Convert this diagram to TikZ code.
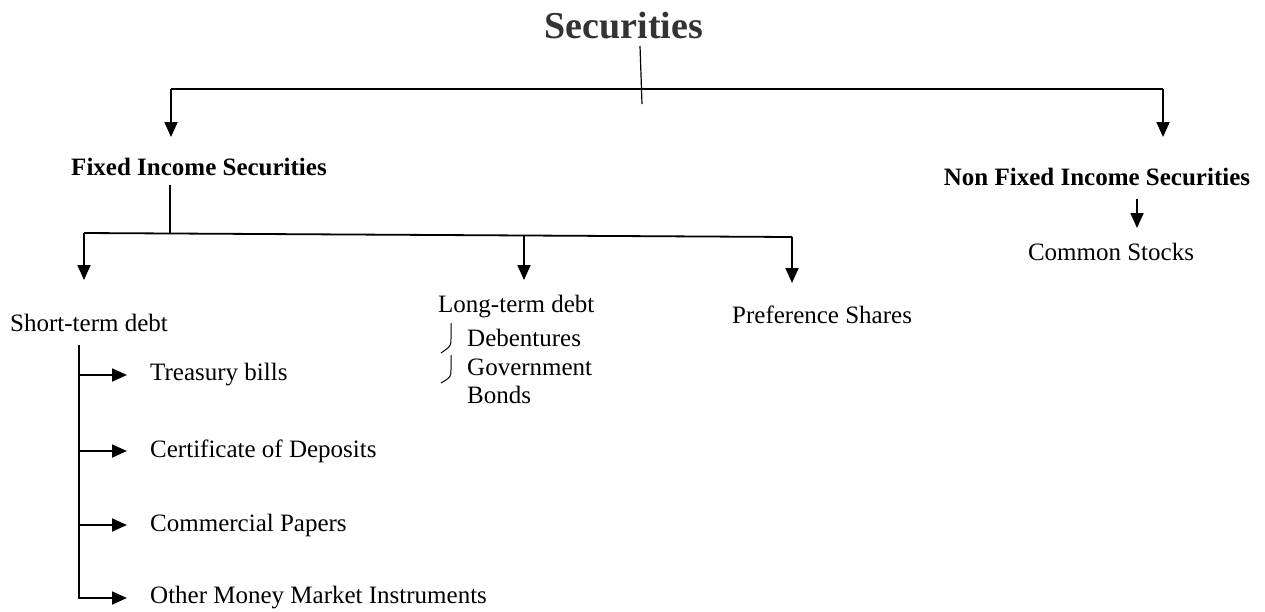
\documentclass[tikz,border=0pt]{standalone}
\usepackage{fontspec}
\setmainfont{Liberation Serif}
\usetikzlibrary{arrows.meta}
\definecolor{titlegray}{HTML}{333333}
\begin{document}
\begin{tikzpicture}[x=1pt,y=-1pt,
  lbl/.style={inner sep=0pt, font=\fontsize{25}{30}\selectfont},
  blbl/.style={inner sep=0pt, font=\fontsize{25}{30}\selectfont\bfseries},
  conn/.style={line width=1.8pt},
  arr/.style={conn, -{Triangle[length=15pt,width=13pt]}},
  brace/.style={line width=1pt}]
\useasboundingbox (0,0) rectangle (1265,611);
% nodes
\node[inner sep=0pt, font=\fontsize{38}{44}\selectfont\bfseries, text=titlegray] (sec) at (624,26) {Securities};
\node[blbl] (fis) at (199,167) {Fixed Income Securities};
\node[blbl] (nfis) at (1097,177) {Non Fixed Income Securities};
\node[lbl] (cs) at (1111,252) {Common Stocks};
\node[lbl, anchor=west] (std) at (10,323) {Short-term debt};
\node[lbl, anchor=west] (ltd) at (438,307) {Long-term debt};
\node[lbl, anchor=west] (deb) at (467,338) {Debentures};
\node[lbl, anchor=west] (gov) at (467,367) {Government};
\node[lbl, anchor=west] (bon) at (467,395) {Bonds};
\node[lbl, anchor=west] (ps) at (732,315) {Preference Shares};
\node[lbl, anchor=west] (tb) at (150,375) {Treasury bills};
\node[lbl, anchor=west] (cd) at (150,451) {Certificate of Deposits};
\node[lbl, anchor=west] (cp) at (150,525) {Commercial Papers};
\node[lbl, anchor=west] (om) at (150,598) {Other Money Market Instruments};
% junction coordinates
\coordinate (s1) at (640,46);
\coordinate (s2) at (642,104);
\coordinate (hl) at (171,89);
\coordinate (hr) at (1163,89);
\coordinate (fisT) at (171,137);
\coordinate (nfisT) at (1163,137);
\coordinate (f1) at (170,185);
\coordinate (f2) at (170,233);
\coordinate (al) at (84,233);
\coordinate (am) at (524,235);
\coordinate (ar) at (792,237);
\coordinate (stdT) at (84,280);
\coordinate (ltdT) at (524,280);
\coordinate (psT) at (792,283);
\coordinate (n1) at (1137,199);
\coordinate (csT) at (1137,228);
\coordinate (v1) at (79,345);
\coordinate (tbT) at (127,375);
\coordinate (cdT) at (127,451);
\coordinate (cpT) at (127,525);
\coordinate (omT) at (127,598);
% top level
\draw[conn, line width=1.2pt] (s1) -- (s2);
\draw[conn] (hl) -- (hr);
\draw[arr] (hl) -- (fisT);
\draw[arr] (hr) -- (nfisT);
\draw[arr] (n1) -- (csT);
% fixed income branches
\draw[conn] (f1) -- (f2);
\draw[conn] (al) -- (ar);
\draw[arr] (al) -- (stdT);
\draw[arr] (am) -- (ltdT);
\draw[arr] (ar) -- (psT);
% short-term list
\draw[arr] (v1) |- (omT);
\draw[arr] (v1 |- tbT) -- (tbT);
\draw[arr] (v1 |- cdT) -- (cdT);
\draw[arr] (v1 |- cpT) -- (cpT);
% long-term brackets
\draw[brace] (451,323) -- (451,338) .. controls (451,346) .. (441,353);
\draw[brace] (451,355) -- (451,369) .. controls (451,377) .. (441,383);
\end{tikzpicture}
\end{document}
